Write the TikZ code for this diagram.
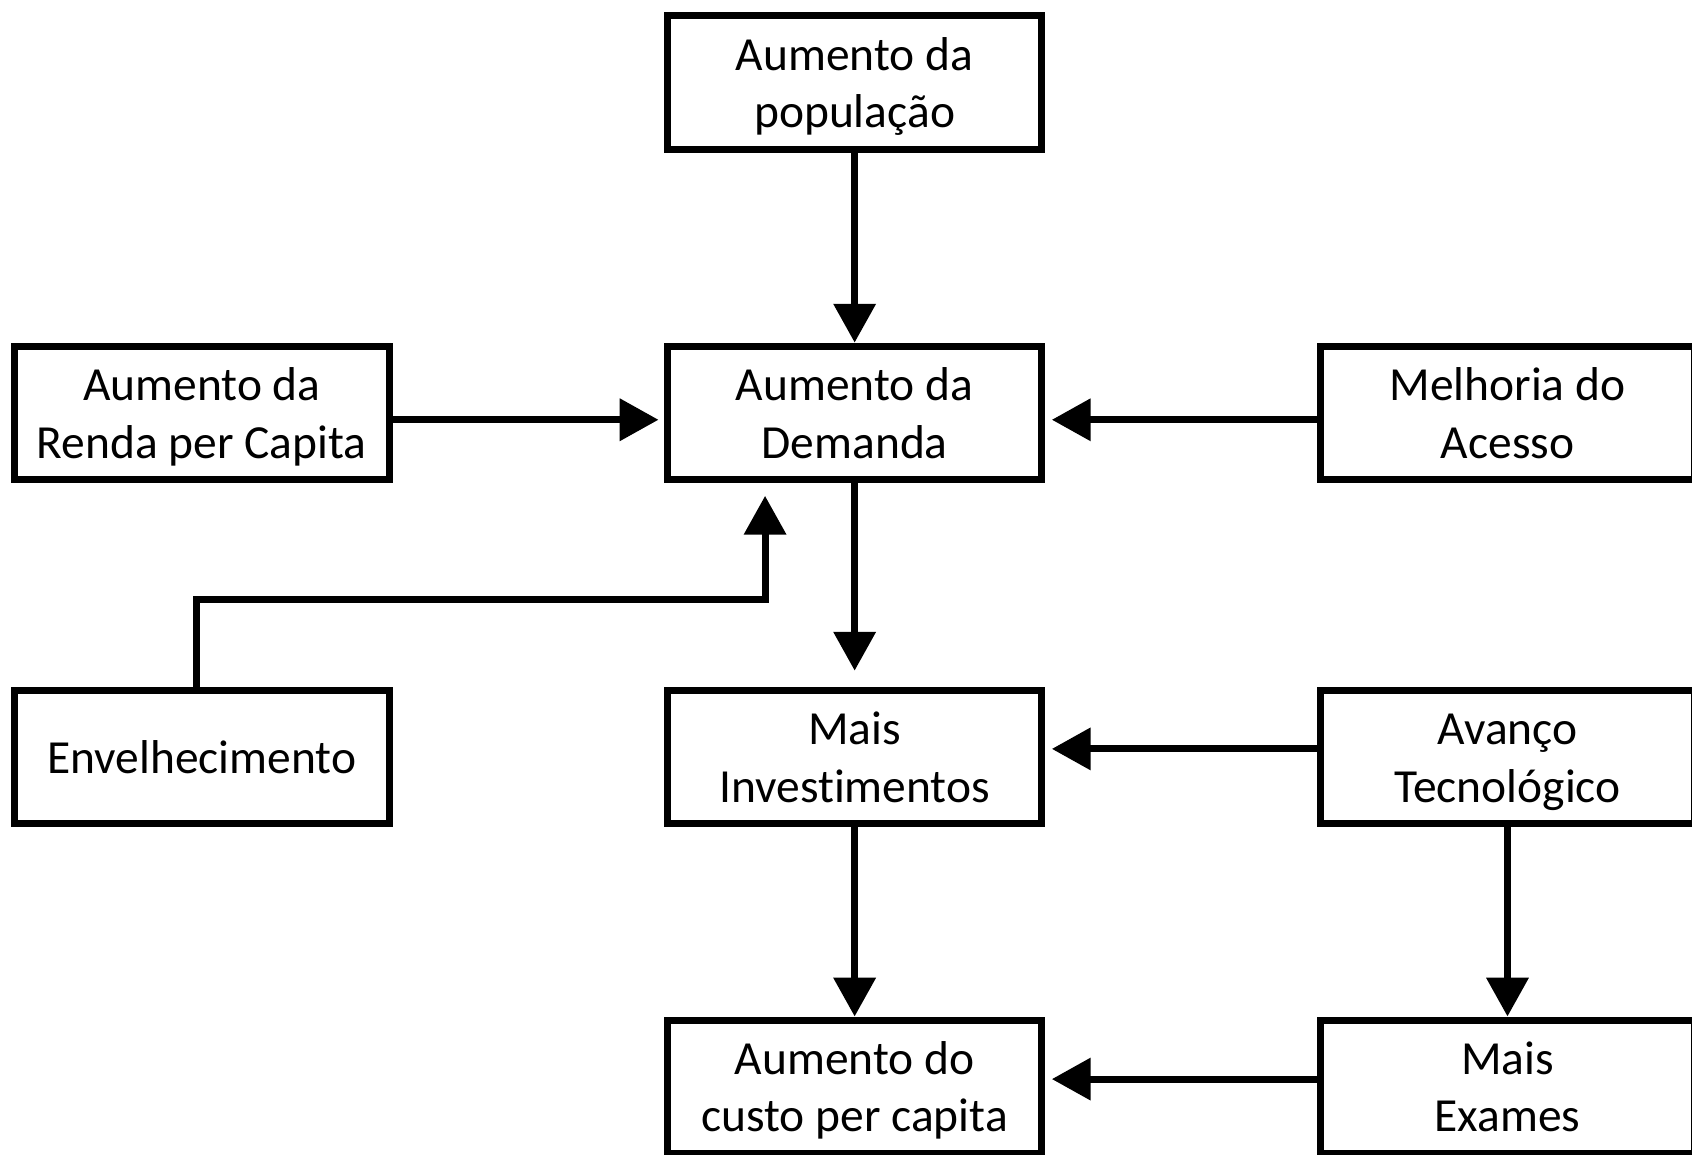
\documentclass[tikz,border=0pt]{standalone}
\usepackage{fontspec}
\setmainfont{Carlito}[Ligatures=NoCommon]
\usetikzlibrary{arrows.meta}
\begin{document}
\begin{tikzpicture}[x=0.5pt,y=-0.5pt,font=\fontsize{22}{26.6}\selectfont,
  caixa/.style={draw,line width=3.25pt,minimum width=173.5pt,minimum height=61.75pt,align=center,inner sep=0pt,
    text height=42pt,text depth=0pt},
  seta/.style={line width=3.25pt,-{Triangle[width=19pt,length=18pt]}}]
\useasboundingbox (0,0) rectangle (1568,1070);
\def\colA{187}
\def\colB{792}
\def\colC{1397}
\node[caixa] (populacao) at (\colB,76.5) {Aumento da\\população};
\node[caixa] (renda) at (\colA,382.5) {Aumento da\\Renda per Capita};
\node[caixa] (demanda) at (\colB,382.5) {Aumento da\\Demanda};
\node[caixa] (acesso) at (\colC,382.5) {Melhoria do\\Acesso};
\node[caixa,text height=15.4pt] (envelhecimento) at (\colA,701.5) {Envelhecimento};
\node[caixa] (investimentos) at (\colB,701.5) {Mais\\Investimentos};
\node[caixa] (tecnologia) at (\colC,701.5) {Avanço\\Tecnológico};
\node[caixa] (custo) at (\colB,1007) {Aumento do\\custo per capita};
\node[caixa] (exames) at (\colC,1007) {Mais\\Exames};
\coordinate (cotovelo) at (709,556);
\draw[seta] (populacao) -- (demanda);
\draw[seta,shorten >=2.5pt] ([yshift=-3.25pt]renda.east) -- ([yshift=-3.25pt]demanda.west);
\draw[seta,shorten >=3pt] ([yshift=-3.25pt]acesso.west) -- ([yshift=-3.25pt]demanda.east);
\draw[seta,shorten >=6pt] ([xshift=-2.5pt]envelhecimento.north) |- (cotovelo) -- (cotovelo |- demanda.south);
\draw[seta,shorten >=7.5pt] (demanda) -- (investimentos);
\draw[seta,shorten >=3pt] ([yshift=3.75pt]tecnologia.west) -- ([yshift=3.75pt]investimentos.east);
\draw[seta] (investimentos) -- (custo);
\draw[seta] (tecnologia) -- (exames);
\draw[seta,shorten >=3pt] ([yshift=3.5pt]exames.west) -- ([yshift=3.5pt]custo.east);
\end{tikzpicture}
\end{document}
